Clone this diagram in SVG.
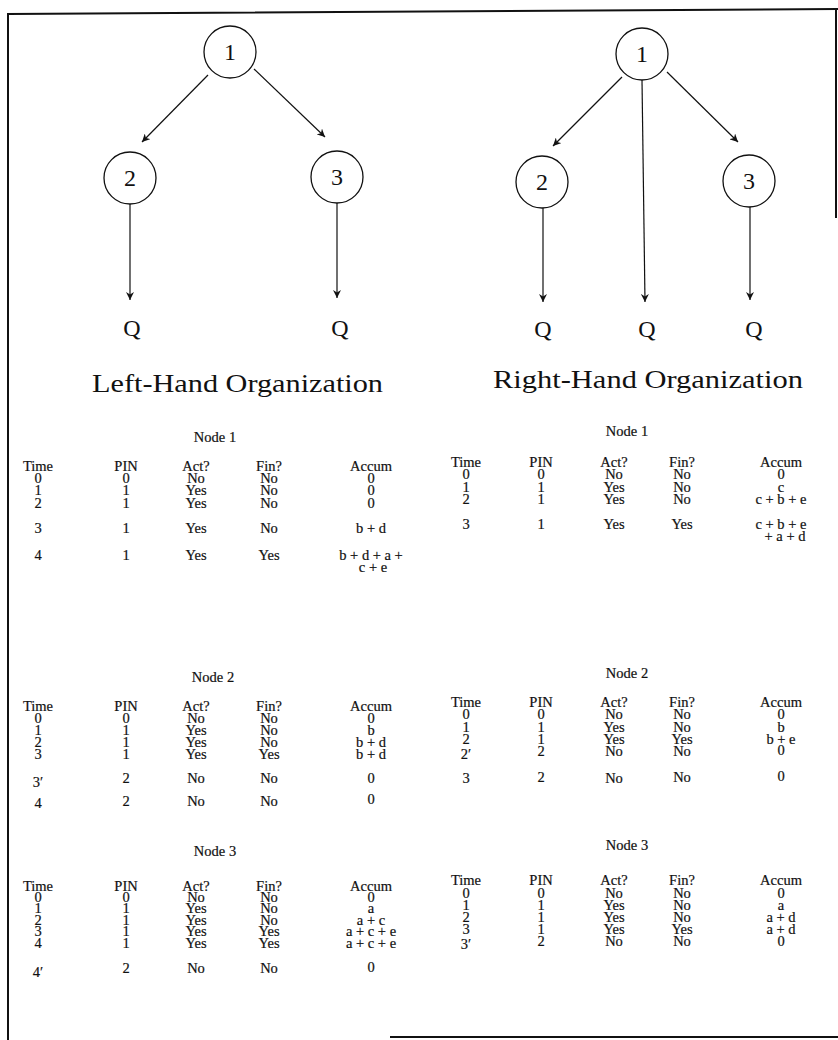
<svg xmlns="http://www.w3.org/2000/svg" width="838" height="1040" viewBox="0 0 838 1040">
<style>
.frame{stroke:#111;stroke-width:2;fill:none}
.node{fill:#fff;stroke:#111;stroke-width:1.3}
.nl{font-family:"Liberation Serif",serif;font-size:24px;fill:#111;text-anchor:middle}
.q{font-family:"Liberation Serif",serif;font-size:24px;fill:#111;text-anchor:middle}
.ttl{font-family:"Liberation Serif",serif;font-size:26px;fill:#111}
.edge{stroke:#111;stroke-width:1.2;fill:none;marker-end:url(#ah)}
.t{font-family:"Liberation Serif",serif;font-size:14.5px;fill:#111;stroke:#111;stroke-width:0.2;text-anchor:middle}
</style>
<defs>
<marker id="ah" viewBox="0 0 10 10" refX="10" refY="5" markerWidth="8" markerHeight="8" markerUnits="userSpaceOnUse" orient="auto">
<path d="M0,0 L10,5 L0,10 L3,5 Z" fill="#111"/>
</marker>
</defs>
<rect width="838" height="1040" fill="#fff"/>
<g id="frame">
<path class="frame" d="M8,1040 L8,14 L838,9"/>
<path class="frame" d="M836,9 L836,218"/>
<path class="frame" d="M390,1037 L838,1037" stroke-width="1.5"/>
</g>
<g id="connectors">
<line class="edge" x1="208" y1="75" x2="142" y2="142"/>
<line class="edge" x1="254" y1="69" x2="325" y2="137"/>
<line class="edge" x1="130" y1="204" x2="130" y2="300"/>
<line class="edge" x1="337" y1="203" x2="337" y2="298"/>
<line class="edge" x1="622" y1="77" x2="553" y2="146"/>
<line class="edge" x1="667" y1="72" x2="738" y2="142"/>
<line class="edge" x1="642" y1="80" x2="645" y2="302"/>
<line class="edge" x1="543" y1="208" x2="543" y2="302"/>
<line class="edge" x1="750" y1="207" x2="750" y2="300"/>
</g>
<g id="L1"><circle class="node" cx="230" cy="52" r="26"/><text class="nl" x="230" y="60">1</text></g>
<g id="L2"><circle class="node" cx="130" cy="178" r="26"/><text class="nl" x="130" y="186">2</text></g>
<g id="L3"><circle class="node" cx="337" cy="177" r="26"/><text class="nl" x="337" y="185">3</text></g>
<g id="LQ2"><text class="q" x="132" y="336">Q</text></g>
<g id="LQ3"><text class="q" x="340" y="336">Q</text></g>
<g id="R1"><circle class="node" cx="642" cy="54" r="26"/><text class="nl" x="642" y="62">1</text></g>
<g id="R2"><circle class="node" cx="542" cy="182" r="26"/><text class="nl" x="542" y="190">2</text></g>
<g id="R3"><circle class="node" cx="749" cy="181" r="26"/><text class="nl" x="749" y="189">3</text></g>
<g id="RQ2"><text class="q" x="543" y="337">Q</text></g>
<g id="RQ1"><text class="q" x="647" y="337">Q</text></g>
<g id="RQ3"><text class="q" x="754" y="337">Q</text></g>
<text class="ttl" x="92" y="392" textLength="291" lengthAdjust="spacingAndGlyphs">Left-Hand Organization</text>
<text class="ttl" x="493" y="388" textLength="310" lengthAdjust="spacingAndGlyphs">Right-Hand Organization</text>

<g id="tableL1">
<text class="t" x="215" y="442">Node 1</text>
<text class="t" x="38" y="471">Time</text><text class="t" x="126" y="471">PIN</text><text class="t" x="196" y="471">Act?</text><text class="t" x="269" y="471">Fin?</text><text class="t" x="371" y="471">Accum</text>
<text class="t" x="38" y="483">0</text><text class="t" x="126" y="483">0</text><text class="t" x="196" y="483">No</text><text class="t" x="269" y="483">No</text><text class="t" x="371" y="483">0</text>
<text class="t" x="38" y="495">1</text><text class="t" x="126" y="495">1</text><text class="t" x="196" y="495">Yes</text><text class="t" x="269" y="495">No</text><text class="t" x="371" y="495">0</text>
<text class="t" x="38" y="508">2</text><text class="t" x="126" y="508">1</text><text class="t" x="196" y="508">Yes</text><text class="t" x="269" y="508">No</text><text class="t" x="371" y="508">0</text>
<text class="t" x="38" y="533">3</text><text class="t" x="126" y="533">1</text><text class="t" x="196" y="533">Yes</text><text class="t" x="269" y="533">No</text><text class="t" x="371" y="533">b + d</text>
<text class="t" x="38" y="560">4</text><text class="t" x="126" y="560">1</text><text class="t" x="196" y="560">Yes</text><text class="t" x="269" y="560">Yes</text><text class="t" x="371" y="560">b + d + a +</text>
<text class="t" x="373" y="572">c + e</text>
</g>

<g id="tableR1">
<text class="t" x="627" y="436">Node 1</text>
<text class="t" x="466" y="467">Time</text><text class="t" x="541" y="467">PIN</text><text class="t" x="614" y="467">Act?</text><text class="t" x="682" y="467">Fin?</text><text class="t" x="781" y="467">Accum</text>
<text class="t" x="466" y="479">0</text><text class="t" x="541" y="479">0</text><text class="t" x="614" y="479">No</text><text class="t" x="682" y="479">No</text><text class="t" x="781" y="479">0</text>
<text class="t" x="466" y="492">1</text><text class="t" x="541" y="492">1</text><text class="t" x="614" y="492">Yes</text><text class="t" x="682" y="492">No</text><text class="t" x="781" y="492">c</text>
<text class="t" x="466" y="504">2</text><text class="t" x="541" y="504">1</text><text class="t" x="614" y="504">Yes</text><text class="t" x="682" y="504">No</text><text class="t" x="781" y="504">c + b + e</text>
<text class="t" x="466" y="529">3</text><text class="t" x="541" y="529">1</text><text class="t" x="614" y="529">Yes</text><text class="t" x="682" y="529">Yes</text><text class="t" x="781" y="529">c + b + e</text>
<text class="t" x="785" y="541">+ a + d</text>
</g>

<g id="tableL2">
<text class="t" x="213" y="682">Node 2</text>
<text class="t" x="38" y="711">Time</text><text class="t" x="126" y="711">PIN</text><text class="t" x="196" y="711">Act?</text><text class="t" x="269" y="711">Fin?</text><text class="t" x="371" y="711">Accum</text>
<text class="t" x="38" y="723">0</text><text class="t" x="126" y="723">0</text><text class="t" x="196" y="723">No</text><text class="t" x="269" y="723">No</text><text class="t" x="371" y="723">0</text>
<text class="t" x="38" y="735">1</text><text class="t" x="126" y="735">1</text><text class="t" x="196" y="735">Yes</text><text class="t" x="269" y="735">No</text><text class="t" x="371" y="735">b</text>
<text class="t" x="38" y="747">2</text><text class="t" x="126" y="747">1</text><text class="t" x="196" y="747">Yes</text><text class="t" x="269" y="747">No</text><text class="t" x="371" y="747">b + d</text>
<text class="t" x="38" y="759">3</text><text class="t" x="126" y="759">1</text><text class="t" x="196" y="759">Yes</text><text class="t" x="269" y="759">Yes</text><text class="t" x="371" y="759">b + d</text>
<text class="t" x="38" y="787">3′</text><text class="t" x="126" y="783">2</text><text class="t" x="196" y="783">No</text><text class="t" x="269" y="783">No</text><text class="t" x="371" y="783">0</text>
<text class="t" x="38" y="808">4</text><text class="t" x="126" y="806">2</text><text class="t" x="196" y="806">No</text><text class="t" x="269" y="806">No</text><text class="t" x="371" y="804">0</text>
</g>

<g id="tableR2">
<text class="t" x="627" y="678">Node 2</text>
<text class="t" x="466" y="707">Time</text><text class="t" x="541" y="707">PIN</text><text class="t" x="614" y="707">Act?</text><text class="t" x="682" y="707">Fin?</text><text class="t" x="781" y="707">Accum</text>
<text class="t" x="466" y="719">0</text><text class="t" x="541" y="719">0</text><text class="t" x="614" y="719">No</text><text class="t" x="682" y="719">No</text><text class="t" x="781" y="719">0</text>
<text class="t" x="466" y="732">1</text><text class="t" x="541" y="732">1</text><text class="t" x="614" y="732">Yes</text><text class="t" x="682" y="732">No</text><text class="t" x="781" y="732">b</text>
<text class="t" x="466" y="744">2</text><text class="t" x="541" y="744">1</text><text class="t" x="614" y="744">Yes</text><text class="t" x="682" y="744">Yes</text><text class="t" x="781" y="744">b + e</text>
<text class="t" x="466" y="759">2′</text><text class="t" x="541" y="756">2</text><text class="t" x="614" y="756">No</text><text class="t" x="682" y="756">No</text><text class="t" x="781" y="755">0</text>
<text class="t" x="466" y="783">3</text><text class="t" x="541" y="782">2</text><text class="t" x="614" y="783">No</text><text class="t" x="682" y="782">No</text><text class="t" x="781" y="781">0</text>
</g>

<g id="tableL3">
<text class="t" x="215" y="856">Node 3</text>
<text class="t" x="38" y="891">Time</text><text class="t" x="126" y="891">PIN</text><text class="t" x="196" y="891">Act?</text><text class="t" x="269" y="891">Fin?</text><text class="t" x="371" y="891">Accum</text>
<text class="t" x="38" y="902">0</text><text class="t" x="126" y="902">0</text><text class="t" x="196" y="902">No</text><text class="t" x="269" y="902">No</text><text class="t" x="371" y="902">0</text>
<text class="t" x="38" y="913">1</text><text class="t" x="126" y="913">1</text><text class="t" x="196" y="913">Yes</text><text class="t" x="269" y="913">No</text><text class="t" x="371" y="913">a</text>
<text class="t" x="38" y="925">2</text><text class="t" x="126" y="925">1</text><text class="t" x="196" y="925">Yes</text><text class="t" x="269" y="925">No</text><text class="t" x="371" y="925">a + c</text>
<text class="t" x="38" y="936">3</text><text class="t" x="126" y="936">1</text><text class="t" x="196" y="936">Yes</text><text class="t" x="269" y="936">Yes</text><text class="t" x="371" y="936">a + c + e</text>
<text class="t" x="38" y="948">4</text><text class="t" x="126" y="948">1</text><text class="t" x="196" y="948">Yes</text><text class="t" x="269" y="948">Yes</text><text class="t" x="371" y="948">a + c + e</text>
<text class="t" x="38" y="977">4′</text><text class="t" x="126" y="973">2</text><text class="t" x="196" y="973">No</text><text class="t" x="269" y="973">No</text><text class="t" x="371" y="972">0</text>
</g>

<g id="tableR3">
<text class="t" x="627" y="850">Node 3</text>
<text class="t" x="466" y="885">Time</text><text class="t" x="541" y="885">PIN</text><text class="t" x="614" y="885">Act?</text><text class="t" x="682" y="885">Fin?</text><text class="t" x="781" y="885">Accum</text>
<text class="t" x="466" y="898">0</text><text class="t" x="541" y="898">0</text><text class="t" x="614" y="898">No</text><text class="t" x="682" y="898">No</text><text class="t" x="781" y="898">0</text>
<text class="t" x="466" y="910">1</text><text class="t" x="541" y="910">1</text><text class="t" x="614" y="910">Yes</text><text class="t" x="682" y="910">No</text><text class="t" x="781" y="910">a</text>
<text class="t" x="466" y="922">2</text><text class="t" x="541" y="922">1</text><text class="t" x="614" y="922">Yes</text><text class="t" x="682" y="922">No</text><text class="t" x="781" y="922">a + d</text>
<text class="t" x="466" y="934">3</text><text class="t" x="541" y="934">1</text><text class="t" x="614" y="934">Yes</text><text class="t" x="682" y="934">Yes</text><text class="t" x="781" y="934">a + d</text>
<text class="t" x="466" y="949">3′</text><text class="t" x="541" y="946">2</text><text class="t" x="614" y="946">No</text><text class="t" x="682" y="946">No</text><text class="t" x="781" y="946">0</text>
</g>
</svg>
